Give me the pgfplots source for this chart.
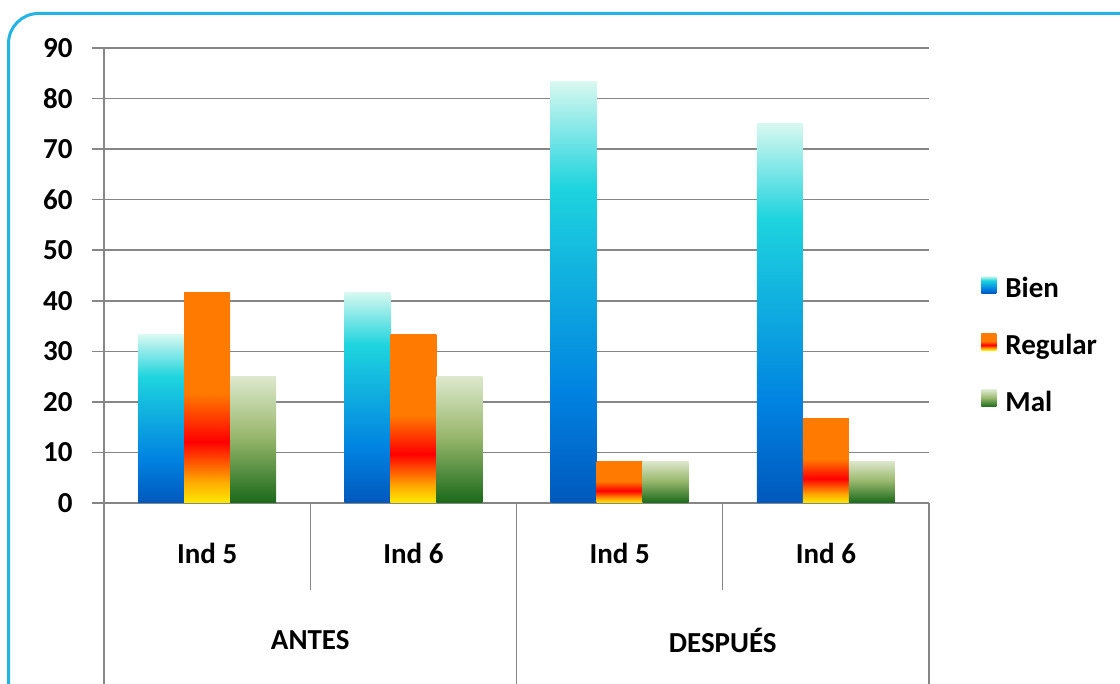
\documentclass[border=0pt]{standalone}
\usepackage{fontspec}
\setmainfont{Carlito}
\usepackage{pgfplots}
\pgfplotsset{compat=1.18}
\definecolor{gridgray}{RGB}{134,134,134}
\definecolor{framecyan}{RGB}{35,180,230}
\definecolor{b0}{RGB}{0,88,188}
\definecolor{b1}{RGB}{0,130,225}
\definecolor{b2}{RGB}{30,212,222}
\definecolor{b3}{RGB}{215,248,240}
\definecolor{r0}{RGB}{255,235,0}
\definecolor{r1}{RGB}{255,170,0}
\definecolor{r2}{RGB}{255,0,0}
\definecolor{r3}{RGB}{255,122,0}
\definecolor{m0}{RGB}{25,105,25}
\definecolor{m1}{RGB}{155,185,110}
\definecolor{m2}{RGB}{220,232,205}
\pgfdeclareverticalshading{bienS}{100bp}{color(0bp)=(b0); color(25bp)=(b0); color(38bp)=(b1); color(62.5bp)=(b2); color(75bp)=(b3); color(100bp)=(b3)}
\pgfdeclareverticalshading{regS}{100bp}{color(0bp)=(r0); color(25bp)=(r0); color(30bp)=(r1); color(39.5bp)=(r2); color(51bp)=(r3); color(100bp)=(r3)}
\pgfdeclareverticalshading{malS}{100bp}{color(0bp)=(m0); color(25bp)=(m0); color(52bp)=(m1); color(75bp)=(m2); color(100bp)=(m2)}
\newcommand{\lblfont}{\fontsize{14.5}{17}\selectfont\bfseries}
\pgfplotsset{
  bien/.style={draw=none, shade, shading=bienS, bar shift=-23pt},
  reg/.style={draw=none, shade, shading=regS, bar shift=0pt},
  mal/.style={draw=none, shade, shading=malS, bar shift=23pt},
}
\begin{document}
\begin{tikzpicture}
\useasboundingbox (0pt,0pt) rectangle (560pt,342pt);
\begin{scope}
\clip (0pt,0pt) rectangle (560pt,342pt);
\draw[framecyan, line width=1.5pt, rounded corners=15pt] (4.25pt,-30pt) rectangle (600pt,335.25pt);
\end{scope}
\begin{axis}[
  at={(52pt,90.5pt)}, anchor=south west,
  scale only axis, width=412.5pt, height=227.5pt,
  xmin=-0.5, xmax=3.5, ymin=0, ymax=90,
  enlargelimits=false, clip=false,
  ybar, bar width=23pt,
  axis lines*=left,
  axis line style={gridgray, line width=0.8pt},
  ymajorgrids, grid style={gridgray, line width=0.8pt},
  ytick={0,10,...,90},
  xtick={0,1,2,3}, xticklabels={Ind 5,Ind 6,Ind 5,Ind 6},
  xtick style={draw=none},
  ytick style={gridgray, line width=0.8pt},
  tick align=outside, major tick length=6pt,
  /pgf/number format/assume math mode=true,
  tick label style={font=\lblfont, text=black},
  yticklabel style={inner sep=0pt, xshift=-9.5pt},
  xticklabel style={anchor=center, inner sep=0pt, yshift=-19pt},
  legend style={at={(1.0558,0.345)}, anchor=west, draw=none, fill=none, font=\lblfont, row sep=12.75pt},
  legend cell align=left,
  legend image code/.code={\path[#1] (0pt,-2pt) rectangle (7.5pt,6.5pt);},
]
% Bien
\addplot[bien] coordinates {(0,33.3)};
\addplot[reg] coordinates {(0,41.7)};
\addplot[mal] coordinates {(0,25)};
\addplot[bien, forget plot] coordinates {(1,41.7)};
\addplot[bien, forget plot] coordinates {(2,83.3)};
\addplot[bien, forget plot] coordinates {(3,75)};
\addplot[reg, forget plot] coordinates {(1,33.3)};
\addplot[reg, forget plot] coordinates {(2,8.3)};
\addplot[reg, forget plot] coordinates {(3,16.7)};
\addplot[mal, forget plot] coordinates {(1,25)};
\addplot[mal, forget plot] coordinates {(2,8.3)};
\addplot[mal, forget plot] coordinates {(3,8.3)};
\legend{\hspace{2.5pt}Bien,\hspace{2.5pt}Regular,\hspace{2.5pt}Mal}
\draw[gridgray, line width=0.8pt] (axis cs:-0.5,0) -- ++(0pt,-90.5pt);
\draw[gridgray, line width=0.8pt] (axis cs:1.5,0) -- ++(0pt,-90.5pt);
\draw[gridgray, line width=0.8pt] (axis cs:3.5,0) -- ++(0pt,-90.5pt);
\draw[gridgray, line width=0.6pt] (axis cs:0.5,0) -- ++(0pt,-43.5pt);
\draw[gridgray, line width=0.6pt] (axis cs:2.5,0) -- ++(0pt,-43.5pt);
\node[font=\lblfont] at (axis cs:0.5,0) [yshift=-68.5pt] {ANTES};
\node[font=\lblfont] at (axis cs:2.5,0) [yshift=-68.5pt] {DESPUÉS};
\end{axis}
\end{tikzpicture}
\end{document}
